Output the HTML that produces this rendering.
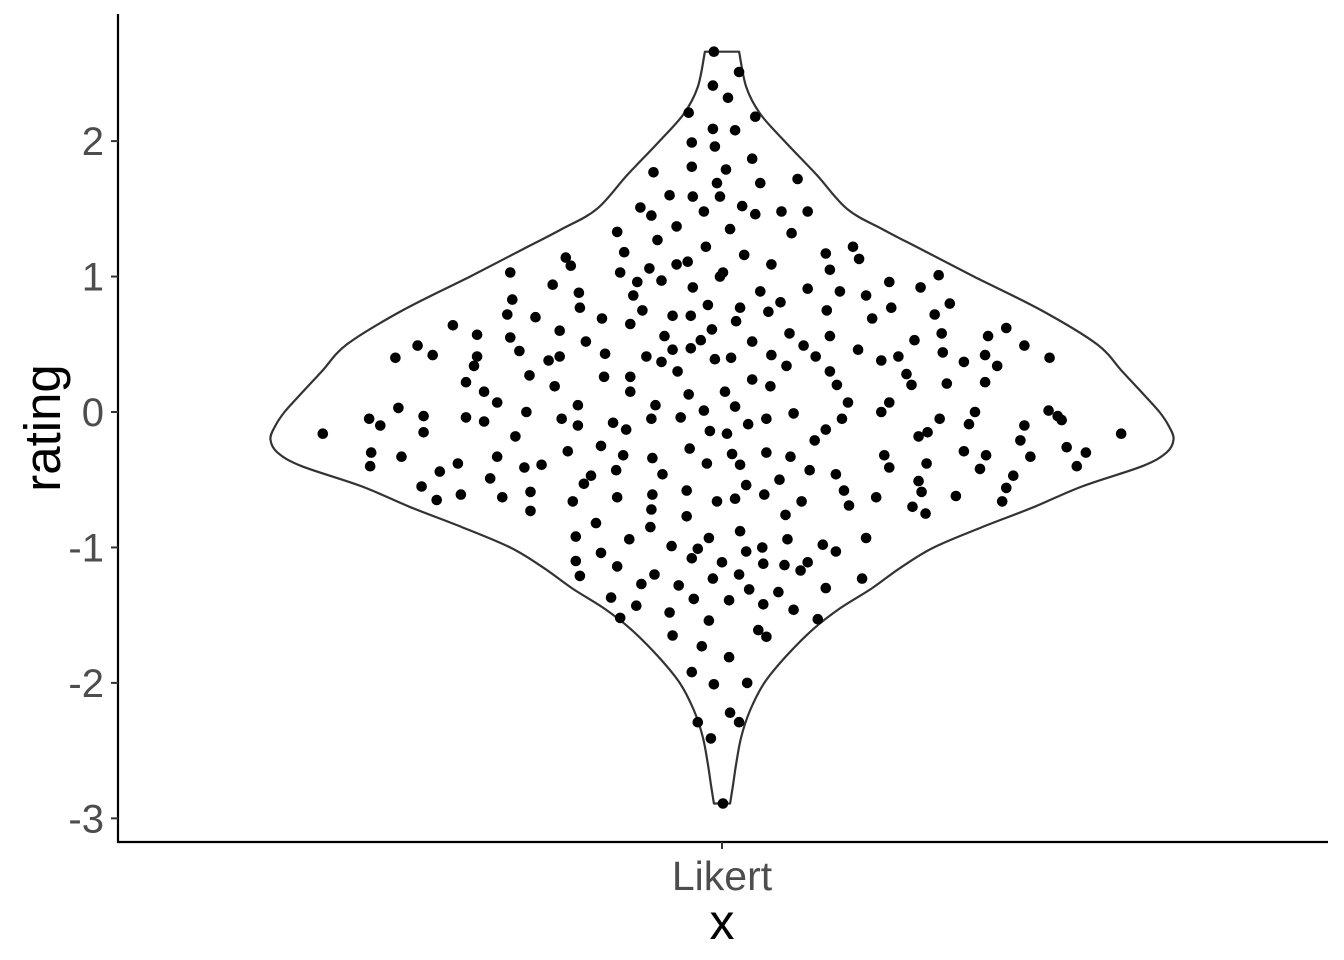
<!DOCTYPE html>
<html><head><meta charset="utf-8"><style>
html,body{margin:0;padding:0;background:#fff;width:1344px;height:960px;overflow:hidden}
svg text{font-family:"Liberation Sans",Arial,sans-serif}
</style></head><body>
<svg id="chart" width="1344" height="960" xmlns="http://www.w3.org/2000/svg">
<g id="plot"></g>
</svg>
<script>
const yTicks = [-3,-2,-1,0,1,2];
const categories = ["Likert"];
const violinY = [2.66,2.4,2.2,2,1.75,1.5,1.35,1.2,1,0.75,0.5,0.3,0.1,0,-0.1,-0.2,-0.3,-0.4,-0.55,-0.7,-0.85,-1,-1.15,-1.3,-1.45,-1.6,-1.8,-2,-2.2,-2.4,-2.6,-2.75,-2.89];
const violinHalf = [0.017,0.024,0.038,0.062,0.094,0.124,0.159,0.198,0.25,0.317,0.372,0.397,0.422,0.434,0.443,0.448,0.441,0.417,0.357,0.31,0.258,0.21,0.177,0.149,0.117,0.091,0.064,0.042,0.028,0.019,0.014,0.011,0.008];
const jitter = [-.008,.017,-.009,.006,-.033,.033,-.009,.013,-.030,-.007,.030,-.030,.004,-.068,.038,-.005,.075,-.052,-.029,-.002,-.081,.020,.059,.085,-.070,-.018,.033,-.045,.008,-.104,.069,-.064,-.016,-.097,.130,.022,-.155,.103,-.150,-.034,.049,.136,.001,-.210,-.101,-.072,-.045,.107,.215,-.002,-.168,-.084,-.060,-.029,.166,.197,.085,.117,.038,-.142,-.088,-.208,.143,-.014,.058,.226,.168,-.141,-.079,.018,.104,-.031,-.213,-.185,.149,.211,-.119,.046,-.049,-.267,.014,-.091,.282,-.010,-.243,-.161,-.057,.067,.107,.218,.264,.191,-.210,-.135,-.021,.030,-.049,.081,.300,-.302,-.201,.135,-.116,-.031,.219,.049,-.075,.261,-.287,.175,-.243,-.161,.093,-.324,.325,-.007,.009,-.172,-.060,.158,.240,.273,-.246,.064,.107,.183,-.044,-.091,.030,.223,-.191,-.117,.261,-.254,.114,.188,-.166,.048,-.236,.003,-.091,-.033,-.223,-.321,-.143,.166,-.066,.013,.125,.158,.251,.324,-.194,-.018,.071,.044,-.296,-.254,-.108,-.041,.333,.216,-.350,-.159,-.070,.119,-.236,.026,.337,-.339,-.143,.245,.300,-.396,.396,-.296,-.095,.005,-.012,.103,.195,.204,-.205,.296,.342,-.348,-.120,-.032,.044,.092,.161,.361,.240,-.318,-.223,-.153,-.069,.010,.068,.262,.306,-.179,-.098,-.349,-.262,-.015,.018,-.196,.166,.203,.256,.352,.087,-.280,-.105,-.059,-.130,.289,.113,-.230,.057,.195,-.137,.024,-.035,.121,-.298,-.190,-.069,.042,.198,.282,-.259,-.218,-.005,.013,.079,-.104,.153,.232,-.283,-.148,.278,.126,-.070,.189,-.190,.202,-.035,.063,-.125,-.071,.018,-.145,-.013,.143,-.092,.100,.065,.040,-.050,-.024,-.120,.113,.024,-.030,-.145,.085,0,-.104,.062,.041,-.067,.139,-.141,.078,-.009,.017,-.043,.027,-.080,.056,.103,-.110,-.028,.041,-.085,.007,.071,-.052,-.101,.095,-.013,-.049,.036,.044,-.020,.007,-.030,-.008,.025,.008,-.024,.017,-.011,.001];
const rating = [2.66,2.51,2.41,2.32,2.21,2.18,2.09,2.08,1.99,1.96,1.87,1.81,1.79,1.77,1.69,1.69,1.72,1.60,1.59,1.59,1.51,1.52,1.48,1.48,1.45,1.48,1.46,1.37,1.35,1.33,1.32,1.27,1.22,1.18,1.22,1.16,1.14,1.17,1.08,1.11,1.09,1.13,1.03,1.03,1.03,1.06,1.09,1.05,1.01,1.00,0.94,0.96,0.97,0.92,0.96,0.92,0.91,0.89,0.89,0.88,0.86,0.83,0.86,0.79,0.81,0.80,0.77,0.77,0.75,0.77,0.75,0.71,0.72,0.70,0.69,0.72,0.69,0.74,0.71,0.64,0.67,0.65,0.62,0.61,0.57,0.60,0.56,0.58,0.56,0.58,0.56,0.53,0.55,0.52,0.53,0.52,0.46,0.49,0.49,0.49,0.45,0.46,0.43,0.47,0.44,0.42,0.41,0.42,0.42,0.41,0.41,0.41,0.41,0.40,0.40,0.39,0.40,0.38,0.37,0.38,0.37,0.34,0.34,0.34,0.30,0.28,0.30,0.26,0.24,0.21,0.27,0.26,0.22,0.22,0.20,0.20,0.19,0.19,0.15,0.15,0.15,0.13,0.07,0.03,0.05,0.07,0.05,0.04,0.07,0.00,0.00,0.01,0.00,0.01,-0.01,-0.05,-0.03,-0.04,-0.08,-0.04,-0.03,-0.05,-0.05,-0.05,-0.05,-0.05,-0.07,-0.09,-0.06,-0.10,-0.10,-0.09,-0.10,-0.16,-0.16,-0.15,-0.13,-0.16,-0.14,-0.13,-0.18,-0.15,-0.18,-0.21,-0.26,-0.30,-0.25,-0.27,-0.30,-0.21,-0.32,-0.30,-0.29,-0.33,-0.33,-0.29,-0.34,-0.31,-0.33,-0.32,-0.33,-0.39,-0.32,-0.40,-0.38,-0.38,-0.39,-0.41,-0.41,-0.38,-0.42,-0.40,-0.43,-0.44,-0.43,-0.46,-0.47,-0.47,-0.46,-0.49,-0.50,-0.51,-0.53,-0.54,-0.58,-0.58,-0.55,-0.59,-0.61,-0.61,-0.59,-0.56,-0.61,-0.63,-0.66,-0.64,-0.66,-0.63,-0.63,-0.62,-0.65,-0.66,-0.66,-0.69,-0.72,-0.70,-0.73,-0.75,-0.77,-0.76,-0.82,-0.85,-0.88,-0.92,-0.93,-0.93,-0.94,-0.98,-0.94,-1.00,-0.99,-1.01,-1.04,-1.03,-1.03,-1.08,-1.10,-1.11,-1.11,-1.14,-1.13,-1.12,-1.20,-1.23,-1.21,-1.17,-1.23,-1.20,-1.28,-1.31,-1.27,-1.33,-1.30,-1.37,-1.38,-1.42,-1.43,-1.39,-1.46,-1.48,-1.52,-1.53,-1.54,-1.65,-1.61,-1.66,-1.73,-1.81,-1.92,-2.01,-2.00,-2.22,-2.29,-2.29,-2.41,-2.89];

const NS="http://www.w3.org/2000/svg";
const plot=document.getElementById('plot');
function yScale(v){return 412-135.45*v;}
function xScale(v){return 722+v*1008;}
function mk(tag,attrs){const e=document.createElementNS(NS,tag);for(const k in attrs)e.setAttribute(k,attrs[k]);plot.appendChild(e);return e;}

function smooth(pts){
  let s="";
  for(let i=0;i<pts.length-1;i++){
    const p0=pts[Math.max(0,i-1)],p1=pts[i],p2=pts[i+1],p3=pts[Math.min(pts.length-1,i+2)];
    const c1=[p1[0]+(p2[0]-p0[0])/6,p1[1]+(p2[1]-p0[1])/6];
    const c2=[p2[0]-(p3[0]-p1[0])/6,p2[1]-(p3[1]-p1[1])/6];
    s+="C"+c1[0].toFixed(1)+","+c1[1].toFixed(1)+" "+c2[0].toFixed(1)+","+c2[1].toFixed(1)+" "+p2[0].toFixed(1)+","+p2[1].toFixed(1);
  }
  return s;
}
const left=violinY.map((v,i)=>[xScale(-violinHalf[i]),yScale(v)]);
const right=violinY.map((v,i)=>[xScale(violinHalf[i]),yScale(v)]).reverse();
let d="M"+left[0][0].toFixed(1)+","+left[0][1].toFixed(1)+smooth(left)+"L"+right[0][0].toFixed(1)+","+right[0][1].toFixed(1)+smooth(right)+"Z";
const vp=mk('path',{d:d,fill:'none',stroke:'#333','stroke-width':2.2,'stroke-linejoin':'round'});



for(let i=0;i<rating.length;i++){
  const c=mk('circle',{cx:xScale(jitter[i]).toFixed(1),cy:yScale(rating[i]).toFixed(1),r:5.3,fill:'#000'});
  
  
}

const ya=mk('line',{x1:118,y1:14,x2:118,y2:843,stroke:'#000','stroke-width':2.2});


const xa=mk('line',{x1:117,y1:842,x2:1328,y2:842,stroke:'#000','stroke-width':2.2});


yTicks.forEach(t=>{
  const y=yScale(t);
  const tk=mk('line',{x1:111,y1:y,x2:118,y2:y,stroke:'#333','stroke-width':2});
  
  
  const lb=mk('text',{x:104,y:y+14,'text-anchor':'end','font-size':40,fill:'#4d4d4d'});
  lb.textContent=String(t);
  
  
});
categories.forEach((c,i)=>{
  const x=xScale(i);
  const tk=mk('line',{x1:x,y1:842,x2:x,y2:849,stroke:'#333','stroke-width':2});
  
  
  const lb=mk('text',{x:x,y:890,'text-anchor':'middle','font-size':41,fill:'#4d4d4d'});
  lb.textContent=c;
  
  
});
const xt=mk('text',{x:722,y:939,'text-anchor':'middle','font-size':50,fill:'#000'});
xt.textContent='x';


const yt=mk('text',{x:0,y:0,'text-anchor':'middle','font-size':51,fill:'#000',transform:'translate(60,428) rotate(-90)'});
yt.textContent='rating';


</script>
</body></html>
